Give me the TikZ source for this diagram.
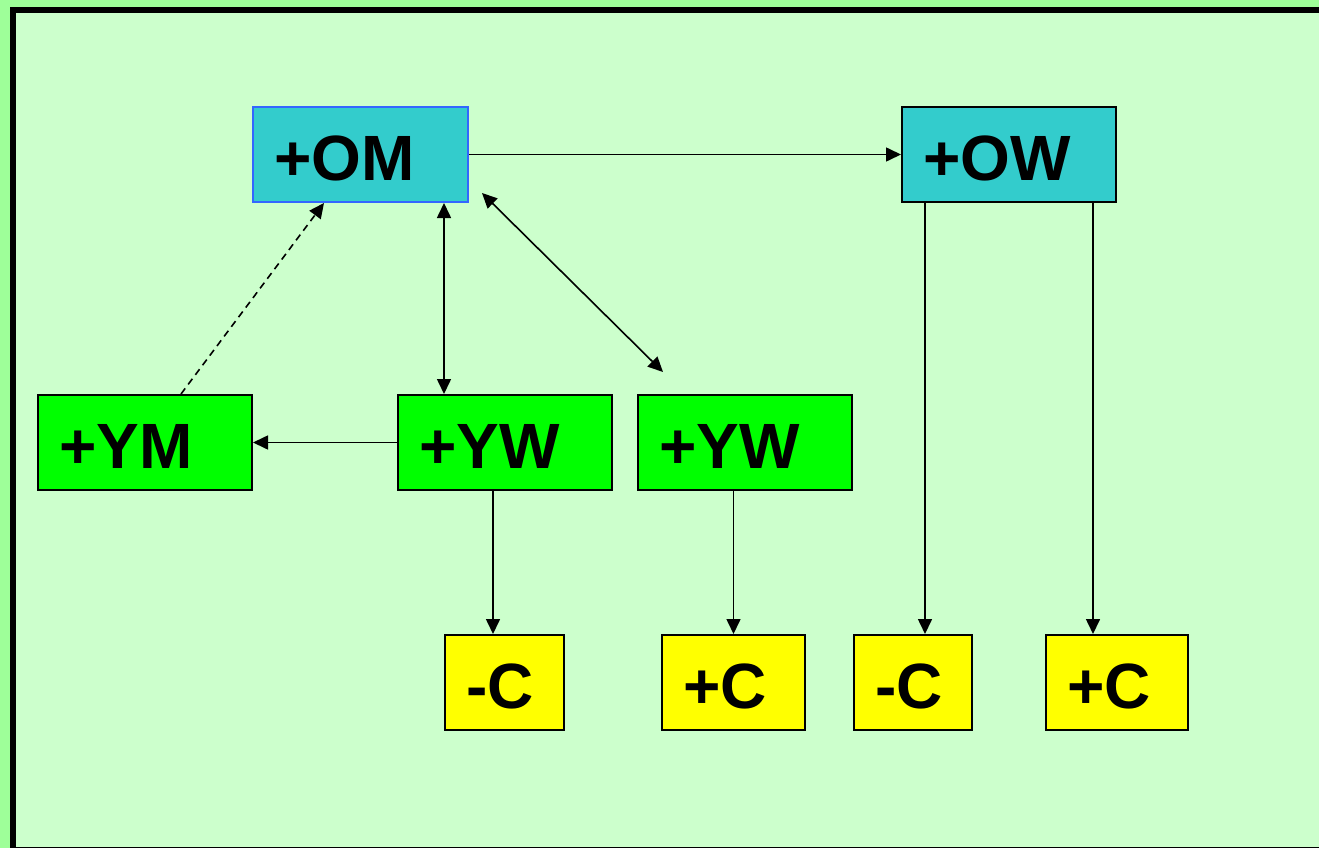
\documentclass[tikz,border=0pt]{standalone}
\usepackage{fontspec}
\setmainfont{Liberation Sans}
\usetikzlibrary{positioning,calc,arrows.meta}
\definecolor{outgreen}{HTML}{9EFF99}
\definecolor{ingreen}{HTML}{CCFFCC}
\definecolor{boxcyan}{HTML}{33CCCC}
\definecolor{boxblue}{HTML}{3366FF}
\definecolor{boxgreen}{HTML}{00FF00}
\definecolor{boxyellow}{HTML}{FFFF00}
\tikzset{
    box/.style={draw, line width=2pt, anchor=north west, align=left,
        minimum height=95pt, text height=52pt, text depth=0pt,
        inner xsep=21pt, inner ysep=0pt, outer sep=1pt,
        font=\fontsize{64}{70}\selectfont\bfseries},
    arr/.style={line width=1.6pt, -{Triangle[length=15pt,width=14pt]}},
    darr/.style={line width=1.6pt, {Triangle[length=15pt,width=14pt]}-{Triangle[length=15pt,width=14pt]}}
}

\begin{document}
\begin{tikzpicture}[x=1pt,y=-1pt]
    % Background and frame
    \useasboundingbox (0,0) rectangle (1319,848);
    \clip (0,0) rectangle (1319,848);
    \fill[outgreen] (0,0) rectangle (1319,848);
    \draw[line width=6pt, fill=ingreen] (13,10) rectangle (1340,850);

    % Top row
    \node[box, fill=boxcyan, draw=boxblue, text width=173pt] (OM) at (252,106) {+OM};
    \node[box, fill=boxcyan, text width=172pt] (OW) at (901,106) {+OW};

    % Middle row
    \node[box, fill=boxgreen, text width=172pt] (YM) at (37,394) {+YM};
    \node[box, fill=boxgreen, text width=172pt] (YWa) at (397,394) {+YW};
    \node[box, fill=boxgreen, text width=172pt] (YWb) at (637,394) {+YW};

    % Bottom row
    \node[box, fill=boxyellow, text width=77pt] (mCa) at (444,634) {-C};
    \node[box, fill=boxyellow, text width=101pt] (pCa) at (661,634) {+C};
    \node[box, fill=boxyellow, text width=76pt] (mCb) at (853,634) {-C};
    \node[box, fill=boxyellow, text width=100pt] (pCb) at (1045,634) {+C};

    % Connectors
    \draw[arr] (OM.east) -- (OW.west);
    \draw[arr, dashed, dash pattern=on 7pt off 5pt] ([xshift=144pt]YM.north west) -- ([xshift=72pt]OM.south west);
    \draw[darr] ([xshift=47pt]YWa.north west |- OM.south) -- ([xshift=47pt]YWa.north west);
    \draw[darr] ([shift={(13,-10)}]OM.south east) -- ([shift={(26,-22)}]YWb.north west);
    \draw[arr] (YWa.west) -- (YM.east);
    \draw[arr] ([xshift=-12pt]YWa.south) -- ([xshift=-12pt]YWa.south |- mCa.north);
    \draw[arr] (pCa.north |- YWb.south) -- (pCa.north);
    \draw[arr] ([xshift=12pt]mCb.north |- OW.south) -- ([xshift=12pt]mCb.north);
    \draw[arr] ([xshift=-24pt]pCb.north |- OW.south) -- ([xshift=-24pt]pCb.north);
\end{tikzpicture}
\end{document}
